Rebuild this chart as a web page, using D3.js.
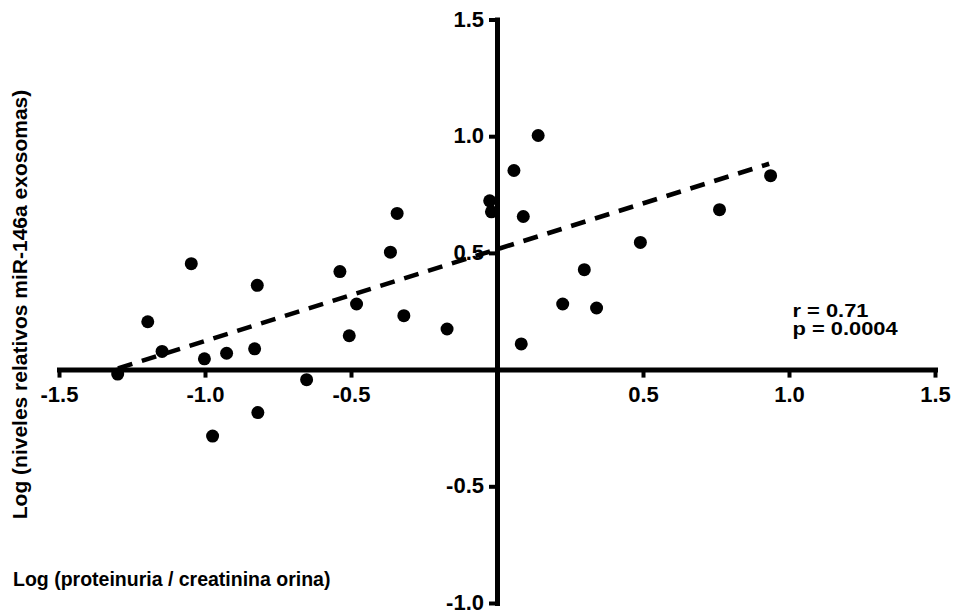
<!DOCTYPE html>
<html>
<head>
<meta charset="utf-8">
<script src="https://cdn.jsdelivr.net/npm/d3@7"></script>
<style>
  html, body { margin: 0; padding: 0; background: #fff; }
  svg { display: block; }
  text { font-family: "Liberation Sans", Arial, Helvetica, sans-serif; font-weight: bold; fill: #000; }
</style>
</head>
<body>
<svg id="chart" width="955" height="614"></svg>
<script>
// Data
const xValues = [-1.299, -1.196, -1.147, -1.047, -1.002, -0.974, -0.926, -0.830, -0.821, -0.819,
                 -0.652, -0.538, -0.506, -0.481, -0.365, -0.342, -0.319, -0.171, -0.025, -0.019,
                  0.058,  0.083,  0.090,  0.141,  0.225,  0.299,  0.341,  0.491,  0.762,  0.937];
const yValues = [-0.019,  0.205,  0.078,  0.454,  0.046, -0.285,  0.070,  0.089,  0.361, -0.184,
                 -0.043,  0.420,  0.145,  0.281,  0.503,  0.669,  0.231,  0.174,  0.723,  0.676,
                  0.853,  0.110,  0.656,  1.003,  0.281,  0.428,  0.264,  0.545,  0.685,  0.831];
const fitX = [-1.298, 0.932];
const fitY = [0.005, 0.882];
const xTicks = [-1.5, -1.0, -0.5, 0.5, 1.0, 1.5];
const yTicks = [-1.0, -0.5, 0.5, 1.0, 1.5];
const xTitle = "Log (proteinuria / creatinina orina)";
const yTitle = "Log (niveles relativos miR-146a exosomas)";
const statLines = ["r = 0.71", "p = 0.0004"];

const svg = d3.select("#chart");
const x = d3.scaleLinear().domain([-1.5, 1.5]).range([59, 935]);
const y = d3.scaleLinear().domain([-1.0, 1.5]).range([603, 19.5]);
const fmt = d => d.toFixed(1);

// X axis at y = 0
const gx = svg.append("g")
  .attr("transform", `translate(0,${y(0)})`)
  .call(d3.axisBottom(x).tickValues(xTicks).tickFormat(fmt).tickSizeInner(8).tickSizeOuter(0).tickPadding(9));
// Y axis at x = 0
const gy = svg.append("g")
  .attr("transform", `translate(${x(0)},0)`)
  .call(d3.axisLeft(y).tickValues(yTicks).tickFormat(fmt).tickSizeInner(8).tickSizeOuter(0).tickPadding(5));

[gx, gy].forEach(g => {
  g.select(".domain").attr("stroke", "#000").attr("stroke-width", 5).attr("stroke-linecap", "square");
  g.selectAll(".tick line").attr("stroke", "#000").attr("stroke-width", 4);
  g.selectAll(".tick text")
    .style("font-family", '"Liberation Sans", Arial, sans-serif')
    .style("font-weight", "bold")
    .style("font-size", "22px")
    .attr("fill", "#000");
});
gy.selectAll(".tick text").attr("dy", "0.3em");

// Regression dashed line
const line = d3.line().x(d => x(d[0])).y(d => y(d[1]));
svg.append("path")
  .datum(d3.zip(fitX, fitY))
  .attr("d", line)
  .attr("fill", "none")
  .attr("stroke", "#000")
  .attr("stroke-width", 4.5)
  .attr("stroke-dasharray", "15,10");

// Points
svg.append("g").selectAll("circle")
  .data(d3.zip(xValues, yValues))
  .join("circle")
  .attr("cx", d => x(d[0]))
  .attr("cy", d => y(d[1]))
  .attr("r", 6.5)
  .attr("fill", "#000");

// Stats annotation
svg.append("g").selectAll("text")
  .data(statLines)
  .join("text")
  .attr("transform", (d, i) => `translate(${x(1.012)},${y(0.225) + i * 17.5}) scale(1.25,1)`)
  .style("font-size", "17.5px")
  .text(d => d);

// Axis titles
svg.append("text")
  .attr("x", 13)
  .attr("y", 586)
  .style("font-size", "19.5px")
  .text(xTitle);

svg.append("text")
  .attr("transform", "translate(27,304.5) rotate(-90)")
  .attr("text-anchor", "middle")
  .style("font-size", "21px")
  .text(yTitle);
</script>
</body>
</html>
